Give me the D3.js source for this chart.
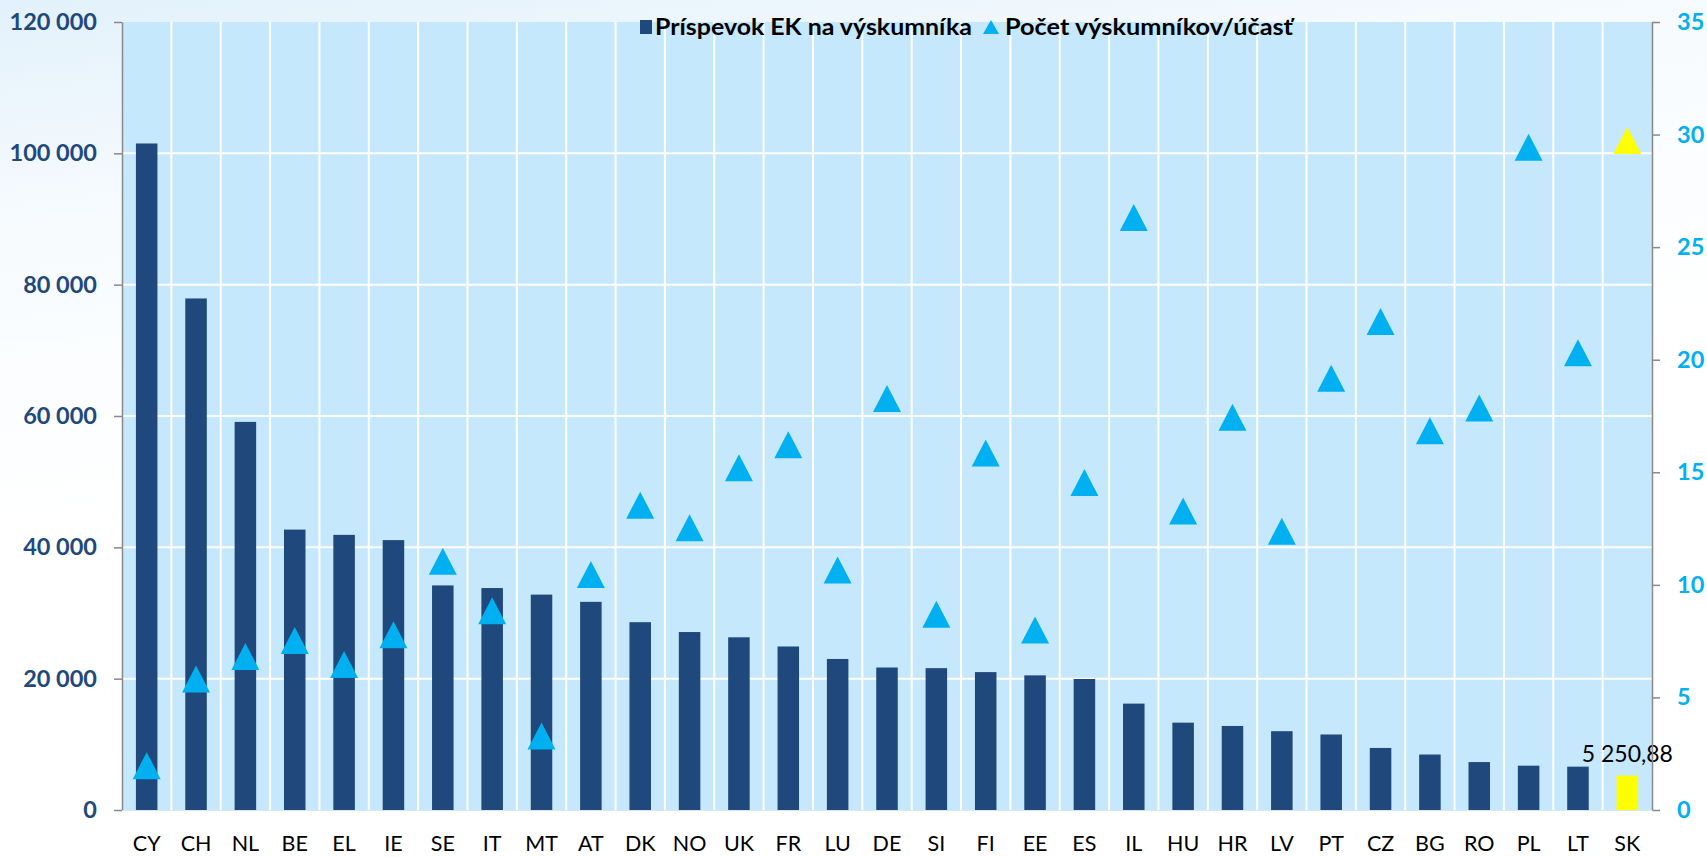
<!DOCTYPE html>
<html><head><meta charset="utf-8">
<script src="https://cdn.jsdelivr.net/npm/d3@7"></script>
<style>
body{margin:0;background:#fff;}
svg{display:block;font-family:Lato,"Open Sans",sans-serif;}
</style>
</head><body>
<svg id="c" width="1707" height="857"></svg>
<script>
// ---- data ----
const categories = ["CY","CH","NL","BE","EL","IE","SE","IT","MT","AT","DK","NO","UK","FR","LU","DE","SI","FI","EE","ES","IL","HU","HR","LV","PT","CZ","BG","RO","PL","LT","SK"];
const contribution = [101500,77900,59100,42700,41900,41100,34200,33800,32800,31700,28600,27100,26300,24900,23000,21700,21600,21000,20500,19950,16200,13300,12800,12000,11500,9450,8450,7300,6750,6600,5250.88];
const researchers = [1.97,5.82,6.82,7.53,6.46,7.78,11.05,8.85,3.29,10.46,13.54,12.54,15.2,16.22,10.66,18.28,8.70,15.86,7.99,14.55,26.32,13.28,17.45,12.38,19.18,21.70,16.85,17.85,29.44,20.31,29.74];
const leftTicks = [0,20000,40000,60000,80000,100000,120000];
const rightTicks = [0,5,10,15,20,25,30,35];
const seriesNames = ["Príspevok EK na výskumníka","Počet výskumníkov/účasť"];
const highlight = "SK";

// ---- layout ----
const W = 1707, H = 857;
const X0 = 122, X1 = 1652, Y0 = 22, Y1 = 810;
const barColor = "#1F487C", triColor = "#00B0F0", hiColor = "#FFFF00";

const loc = d3.formatLocale({decimal:",", thousands:"\u00a0", grouping:[3], currency:["",""]});
const fmtInt = loc.format(",d");
const fmtDec = loc.format(",.2f");

const svg = d3.select("#c");
const defs = svg.append("defs");
const g1 = defs.append("linearGradient").attr("id","bg").attr("x1",0).attr("y1",0).attr("x2",0.25).attr("y2",1);
g1.append("stop").attr("offset","0%").attr("stop-color","#E2F1FB");
g1.append("stop").attr("offset","25%").attr("stop-color","#F7FBFE");
g1.append("stop").attr("offset","60%").attr("stop-color","#FFFFFF");
svg.append("rect").attr("width",W).attr("height",H).attr("fill","url(#bg)");

const x = d3.scaleBand().domain(categories).range([X0,X1]).padding(0);
const yL = d3.scaleLinear().domain([0,120000]).range([Y1,Y0]);
const yR = d3.scaleLinear().domain([0,35]).range([Y1,Y0]);

// plot area
svg.append("rect").attr("x",X0).attr("y",Y0).attr("width",X1-X0).attr("height",Y1-Y0).attr("fill","#C6E8FC");

// grid
svg.append("g").selectAll("line").data(leftTicks.filter(d=>d>0 && d<120000)).join("line")
  .attr("x1",X0).attr("x2",X1).attr("y1",d=>yL(d)).attr("y2",d=>yL(d))
  .attr("stroke","#fff").attr("stroke-width",2);
svg.append("g").selectAll("line").data(categories.slice(1)).join("line")
  .attr("x1",d=>x(d)).attr("x2",d=>x(d)).attr("y1",Y0).attr("y2",Y1)
  .attr("stroke","#fff").attr("stroke-width",2);

// bars
const bw = x.bandwidth()*0.436;
svg.append("g").selectAll("rect").data(categories).join("rect")
  .attr("x",d=>x(d)+x.bandwidth()/2-bw/2)
  .attr("width",bw)
  .attr("y",(d,i)=>yL(contribution[i]))
  .attr("height",(d,i)=>Y1-yL(contribution[i]))
  .attr("fill",d=>d===highlight?hiColor:barColor);

// triangles
const tw = 28, th = 27;
svg.append("g").selectAll("path").data(categories).join("path")
  .attr("d",(d,i)=>{
    const cx = x(d)+x.bandwidth()/2, cy = yR(researchers[i]);
    return `M${cx-tw/2},${cy+th/2}L${cx},${cy-th/2}L${cx+tw/2},${cy+th/2}Z`;
  })
  .attr("fill",d=>d===highlight?hiColor:triColor);

// data label for highlight
const hi = categories.indexOf(highlight);
svg.append("text")
  .attr("x",x(highlight)+x.bandwidth()/2)
  .attr("y",yL(contribution[hi])-14)
  .attr("text-anchor","middle").attr("font-size",23).attr("fill","#000")
  .text(fmtDec(contribution[hi]));

// axes
const axL = svg.append("g").attr("transform",`translate(${X0},0)`)
  .call(d3.axisLeft(yL).tickValues(leftTicks).tickSize(8).tickSizeOuter(0).tickPadding(17).tickFormat(fmtInt));
axL.selectAll("text").attr("font-size",23.5).attr("font-weight","bold").attr("fill","#1F497D").attr("font-family","Lato");
axL.selectAll("line,path").attr("stroke","#898989").attr("stroke-width",1.5);

const axR = svg.append("g").attr("transform",`translate(${X1},0)`)
  .call(d3.axisRight(yR).tickValues(rightTicks).tickSize(8).tickSizeOuter(0).tickPadding(17).tickFormat(d3.format("d")));
axR.selectAll("text").attr("font-size",23.5).attr("font-weight","bold").attr("fill",triColor).attr("font-family","Lato");
axR.selectAll("line,path").attr("stroke","#898989").attr("stroke-width",1.5);

const axB = svg.append("g").attr("transform",`translate(0,${Y1})`)
  .call(d3.axisBottom(x).tickSize(0).tickPadding(26));
axB.select(".domain").attr("stroke","#DCE6EE").attr("stroke-width",1);
axB.selectAll("text").attr("font-size",21.5).attr("fill","#000").attr("font-family","Lato");

// legend
const lg = svg.append("g");
lg.append("rect").attr("x",640).attr("y",20).attr("width",12).attr("height",14).attr("fill",barColor);
lg.append("text").attr("x",655).attr("y",35).attr("font-size",23).attr("font-weight","bold")
  .attr("textLength",317).attr("lengthAdjust","spacingAndGlyphs").text(seriesNames[0]);
lg.append("path").attr("d","M983,34L991,20L999,34Z").attr("fill",triColor);
lg.append("text").attr("x",1005).attr("y",35).attr("font-size",23).attr("font-weight","bold")
  .attr("textLength",288).attr("lengthAdjust","spacingAndGlyphs").text(seriesNames[1]);
</script>
</body></html>
